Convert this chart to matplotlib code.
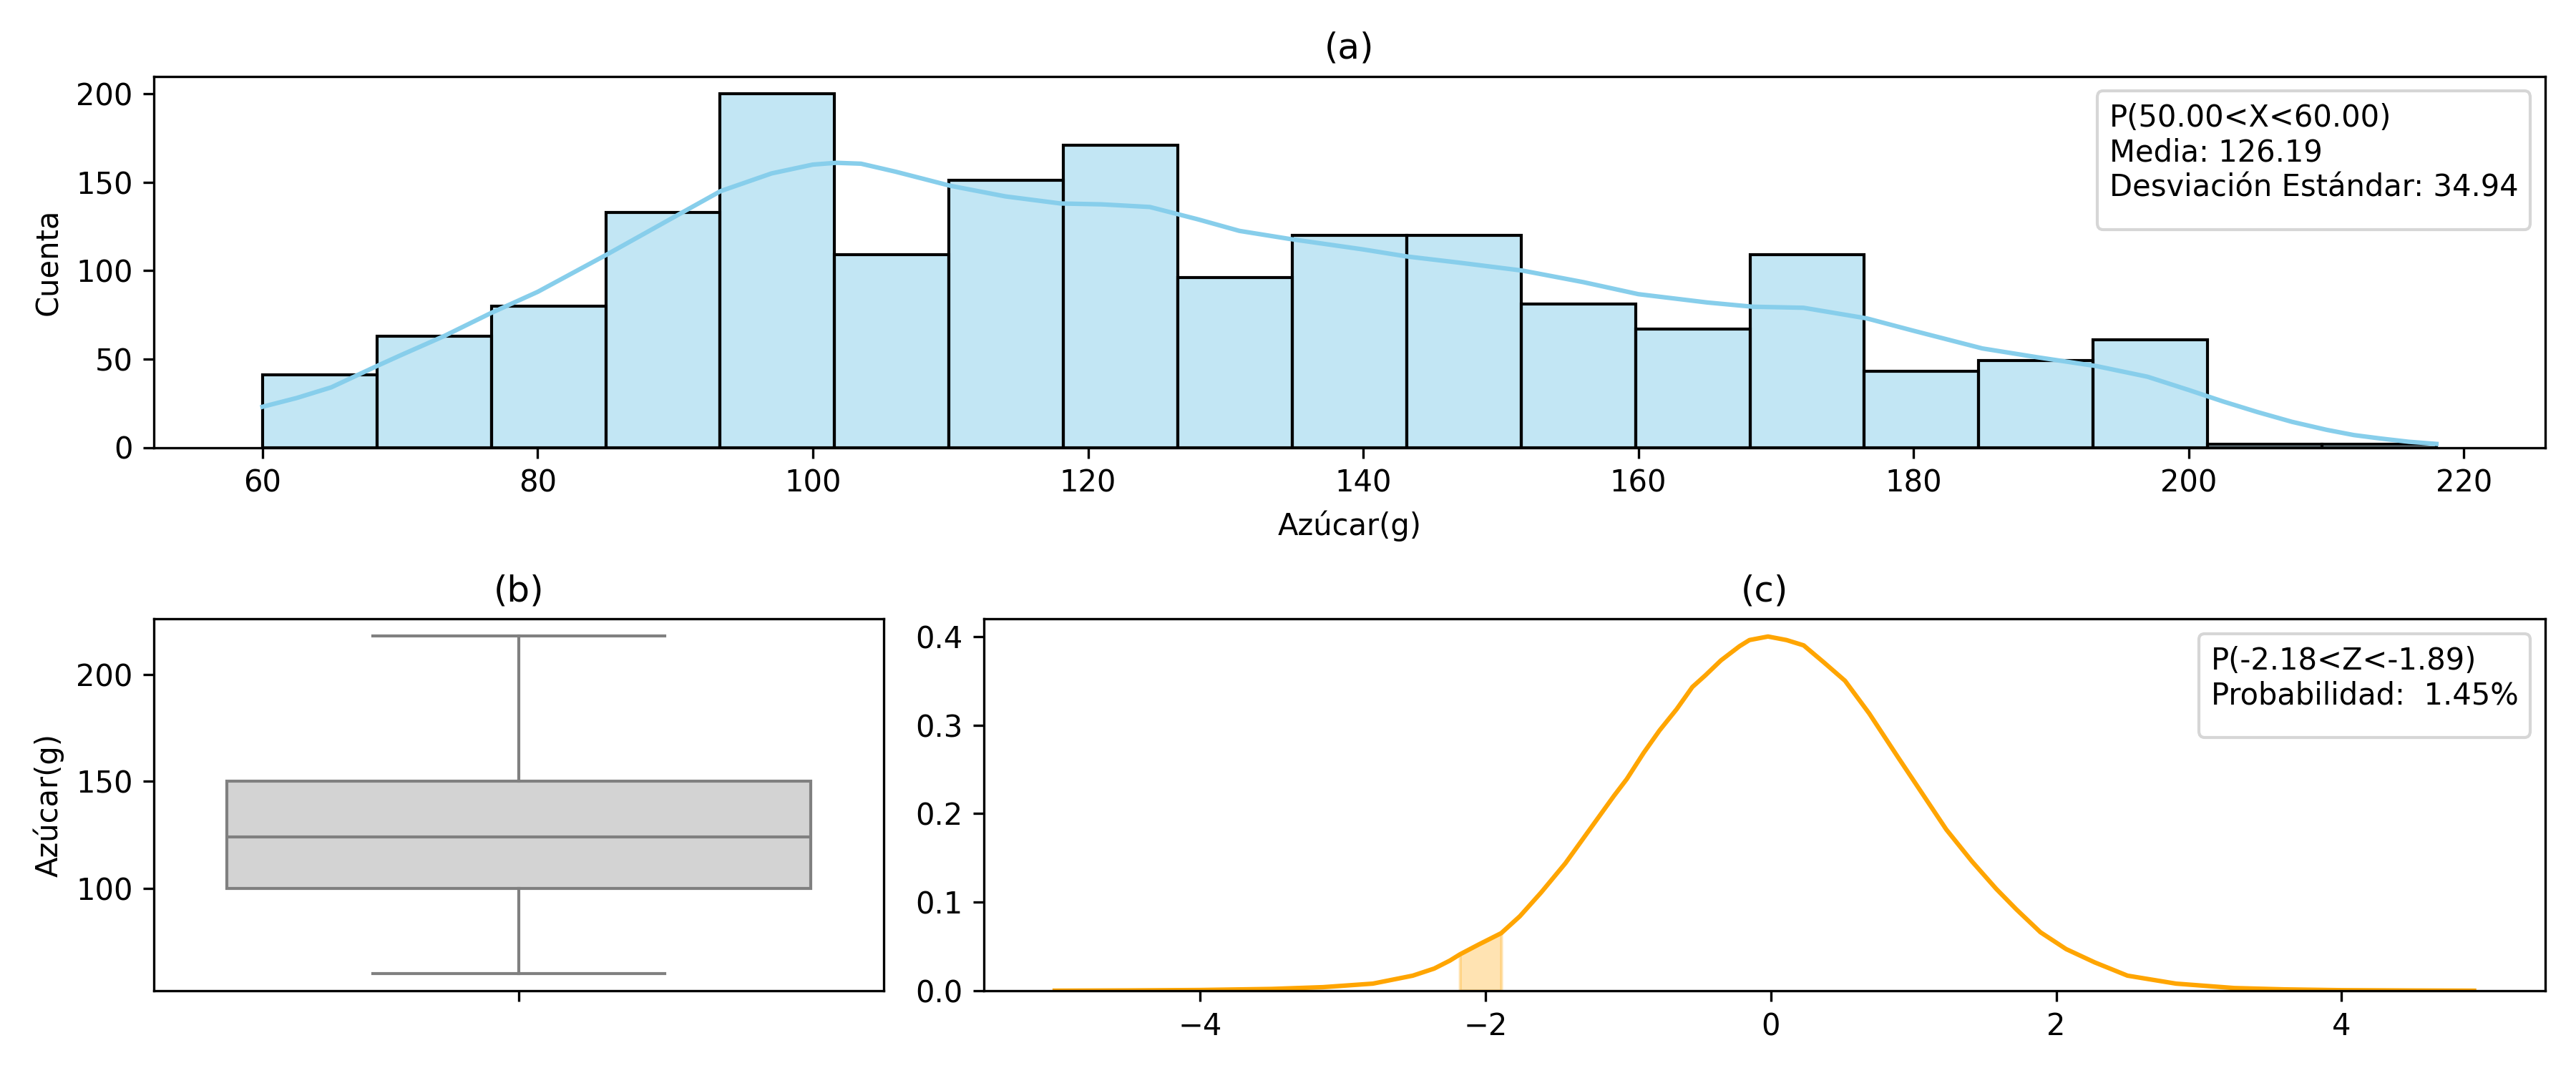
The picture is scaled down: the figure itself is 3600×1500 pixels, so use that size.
import numpy as np
import matplotlib

matplotlib.use("Agg")
import matplotlib.pyplot as plt
from matplotlib.colors import to_rgba

# --------------------------------------------------------------- data
# (a) histogram of sugar content, 19 bins between min and max
sugar_min, sugar_max = 60.0, 218.0
n_bins = 19
counts = [41, 63, 80, 133, 200, 109, 151, 171, 96, 120,
          120, 81, 67, 109, 43, 49, 61, 2, 2]

# KDE curve (count scale)
kde_x = [60, 62.5, 65, 68.3, 70, 73.2, 76.6, 80, 85, 90.3, 93.3, 97, 100, 101.7,
         103.5, 106, 110, 114, 118, 121, 124.5, 128, 131, 134.6, 140, 143.2, 147,
         151.6, 156, 160, 165, 168.3, 172, 176.6, 180, 185, 189, 193.3, 197, 200,
         202.5, 205, 207.5, 210, 212, 214, 216, 218]
kde_y = [23, 28, 34, 46, 52, 63, 76, 88, 109, 132, 145, 155, 160, 161,
         160.5, 156, 148, 142, 138, 137.5, 136, 129, 122.5, 118, 112, 108, 104.5,
         100, 93.5, 86.7, 82, 79.6, 79, 73, 66, 56, 51, 46, 40, 32.5,
         26, 20, 14.5, 10, 7, 5, 3.2, 2]

legend_a = "P(50.00<X<60.00)\nMedia: 126.19\nDesviación Estándar: 34.94"

# (b) box plot summary
box_whislo, box_q1, box_med, box_q3, box_whishi = 60.0, 100.0, 124.0, 150.0, 218.0

# (c) standardised density curve
z_x = [-5.02, -4.5, -4.0, -3.5, -3.14, -2.79, -2.51, -2.36, -2.25, -2.18, -2.05,
       -1.89, -1.76, -1.61, -1.44, -1.27, -1.10, -1.01, -0.89, -0.78, -0.66,
       -0.55, -0.46, -0.35, -0.22, -0.15, -0.02, 0.11, 0.23, 0.37, 0.52, 0.69,
       0.89, 1.06, 1.23, 1.41, 1.58, 1.72, 1.89, 2.07, 2.27, 2.5, 2.84, 3.25,
       3.6, 4.0, 4.5, 4.93]
z_y = [0.0, 0.0003, 0.0008, 0.002, 0.004, 0.008, 0.017, 0.025, 0.034, 0.041, 0.052,
       0.065, 0.084, 0.111, 0.144, 0.182, 0.220, 0.239, 0.269, 0.294, 0.318,
       0.343, 0.356, 0.373, 0.389, 0.396, 0.400, 0.396, 0.390, 0.371, 0.350, 0.313,
       0.264, 0.223, 0.182, 0.146, 0.115, 0.092, 0.066, 0.047, 0.032, 0.017, 0.008, 0.003,
       0.0015, 0.0006, 0.0002, 0.0]
z_lo, z_hi = -2.18, -1.89
legend_c = "P(-2.18<Z<-1.89)\nProbabilidad:  1.45%"

# ---------------------------------------------------------------- figure
fig = plt.figure(figsize=(12, 5), dpi=300)
ax_a = fig.add_axes([0.0597, 0.583, 0.9283, 0.346])
ax_b = fig.add_axes([0.0597, 0.0767, 0.2833, 0.3466])
ax_c = fig.add_axes([0.3819, 0.0767, 0.6061, 0.3466])

# (a)
edges = np.linspace(sugar_min, sugar_max, n_bins + 1)
ax_a.bar(edges[:-1], counts, width=np.diff(edges), align="edge",
         facecolor=to_rgba("skyblue", 0.5), edgecolor="black", linewidth=1.0)
ax_a.plot(kde_x, kde_y, color="skyblue", lw=1.5)
ax_a.set_title("(a)")
ax_a.set_xlabel("Azúcar(g)")
ax_a.set_ylabel("Cuenta")
ax_a.legend(handles=[], title=legend_a, loc="upper right")

# (b)
stats = [dict(whislo=box_whislo, q1=box_q1, med=box_med, q3=box_q3,
              whishi=box_whishi, fliers=[])]
ax_b.bxp(stats, positions=[0], widths=0.8, patch_artist=True,
         boxprops=dict(facecolor="lightgray", edgecolor="gray", linewidth=1.0),
         medianprops=dict(color="gray", linewidth=1.0),
         whiskerprops=dict(color="gray", linewidth=1.0),
         capprops=dict(color="gray", linewidth=1.0),
         capwidths=0.4)
ax_b.set_xlim(-0.5, 0.5)
ax_b.set_xticks([0])
ax_b.set_xticklabels([""])
ax_b.set_ylabel("Azúcar(g)")
ax_b.set_title("(b)")

# (c)
zx = np.asarray(z_x)
zy = np.asarray(z_y)
ax_c.plot(zx, zy, color="orange", lw=1.5)
ax_c.fill_between(zx, zy, where=(zx >= z_lo) & (zx <= z_hi),
                  color="orange", alpha=0.3)
ax_c.set_ylim(0, ax_c.get_ylim()[1])
ax_c.set_title("(c)")
ax_c.legend(handles=[], title=legend_c, loc="upper right")

fig.savefig("out.png", dpi=300)
